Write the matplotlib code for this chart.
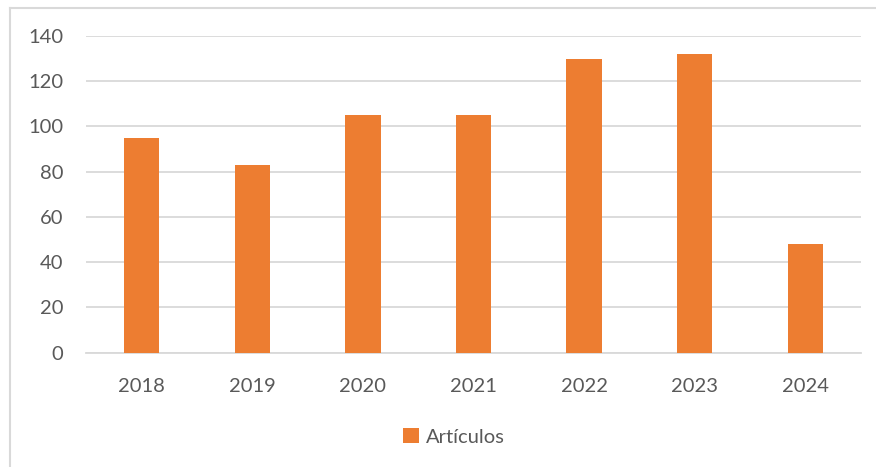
import matplotlib.pyplot as plt
from matplotlib.lines import Line2D
from matplotlib.patches import Patch

# Artículos publicados por año
years = ["2018", "2019", "2020", "2021", "2022", "2023", "2024"]
articles = [95, 83, 105, 105, 130, 132, 48]
y_ticks = [0, 20, 40, 60, 80, 100, 120, 140]

BAR = "#ED7D31"
GRID = "#D9D9D9"
TEXT = "#595959"

plt.rcParams["font.family"] = ["Lato", "DejaVu Sans"]

W, H = 876, 467
fig = plt.figure(figsize=(W / 100, H / 100), dpi=100)
ax = fig.add_axes([86.3 / W, 1 - 352.7 / H, (860.7 - 86.3) / W, (352.7 - 36) / H])

x = range(len(years))
ax.bar(x, articles, width=0.32, color=BAR, zorder=3)

ax.set_xlim(-0.5, len(years) - 0.5)
ax.set_ylim(0, 140)
ax.set_yticks(y_ticks)
ax.set_xticks(list(x))
ax.set_xticklabels(years)
ax.grid(axis="y", color=GRID, linewidth=1.3, zorder=0)
for s in ["top", "right", "left"]:
    ax.spines[s].set_visible(False)
ax.spines["bottom"].set_color(GRID)
ax.spines["bottom"].set_linewidth(1.3)
ax.tick_params(axis="both", length=0, labelsize=14.5, labelcolor=TEXT)
ax.tick_params(axis="y", pad=16.5)
ax.tick_params(axis="x", pad=18)

# leyenda bajo el eje
handle = Patch(facecolor=BAR, edgecolor="none")
fig.legend([handle], ["Artículos"], loc="center", bbox_to_anchor=(454 / W, 1 - 437 / H),
           frameon=False, fontsize=14.5, labelcolor=TEXT,
           handlelength=0.75, handleheight=0.75, handletextpad=0.35)

# marco del gráfico
fig.add_artist(Line2D([10 / W, 1], [1 - 8 / H, 1 - 8 / H], color=GRID, linewidth=1.5))
fig.add_artist(Line2D([10 / W, 10 / W], [0, 1 - 8 / H], color=GRID, linewidth=1.5))

fig.savefig("out.png", dpi=100, facecolor="white")
